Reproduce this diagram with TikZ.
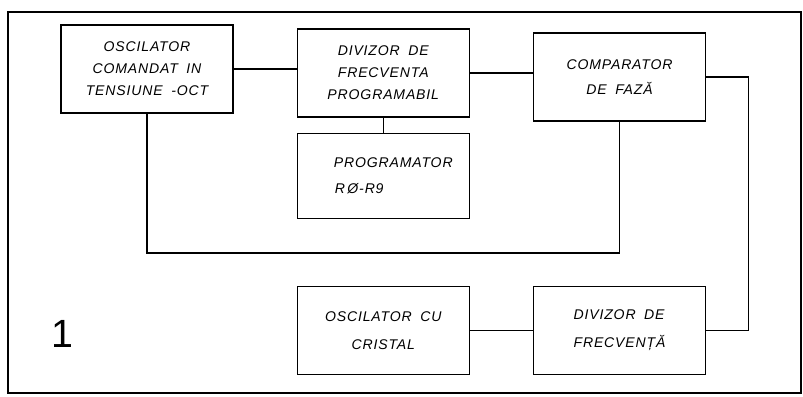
\documentclass[tikz,border=0pt]{standalone}
\usepackage{fontspec}
\setmainfont{Liberation Sans}
\newfontfamily\stencil[LetterSpace=6,WordSpace=1.8]{Liberation Sans}
\usepackage{tikz}
\usetikzlibrary{positioning}

\begin{document}
\begin{tikzpicture}[line width=0.9pt,
    blk/.style={draw, minimum width=4.3cm, minimum height=2.2cm, align=center,
        font=\stencil\itshape\fontsize{10}{15.6}\selectfont}]
        % frame
        \useasboundingbox (0,0) rectangle (20.075,-9.9);
        \draw (0.2,-0.3) rectangle (20.025,-9.825);
        % upper row
        \node[blk] (oct) at (3.675,-1.725) {OSCILATOR\\COMANDAT IN\\TENSIUNE -OCT};
        \node[blk, right=1.575cm of oct, yshift=-0.1cm] (div) {DIVIZOR DE\\FRECVENTA\\PROGRAMABIL};
        \node[blk, right=1.575cm of div, yshift=-0.1cm, font=\stencil\itshape\fontsize{10}{18}\selectfont] (comp) {COMPARATOR\\DE FAZĂ};
        % programmer
        \node[blk, below=0.375cm of div, minimum height=2.125cm, font=\stencil\itshape\fontsize{10}{20}\selectfont] (prog) {\hspace*{0.5cm}PROGRAMATOR\\[-2pt]R\,Ø-R9\hspace*{1.2cm}};
        % lower row
        \node[blk, below=1.675cm of prog, font=\stencil\itshape\fontsize{10}{20}\selectfont] (crist) {OSCILATOR CU\\CRISTAL};
        \node[blk, right=1.575cm of crist, align=left, font=\stencil\itshape\fontsize{10}{20}\selectfont] (divf) {DIVIZOR DE\\FRECVENȚĂ};
        % figure number
        \node[font=\fontsize{28}{30}\selectfont] (nr) at (1.55,-8.35) {1};
        % links
        \draw (oct.east) -- (oct.east -| div.west);
        \draw (div.east) -- (div.east -| comp.west);
        \draw (div.south) -- (prog.north);
        \draw (crist.east) -- (divf.west);
        % loop back
        \coordinate[below=0.85cm of prog] (loopy);
        \draw (oct.south) |- (loopy) -| (comp.south);
        \coordinate[right=1.05cm of comp.east] (fb);
        \draw (comp.east) -- (fb) |- (divf.east);
    \end{tikzpicture}
\end{document}
